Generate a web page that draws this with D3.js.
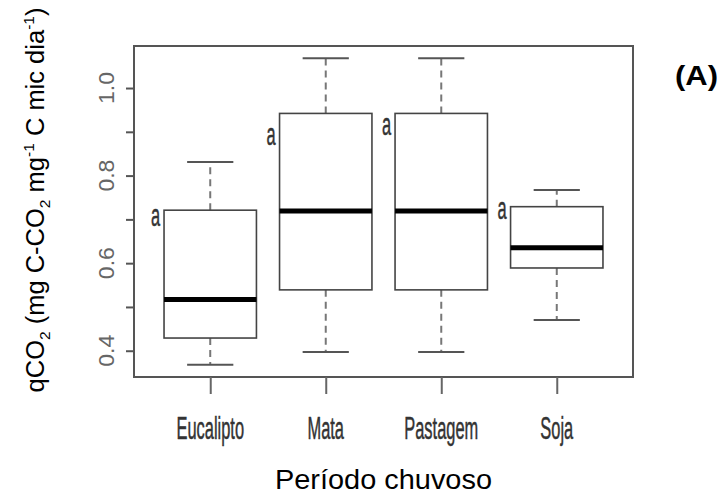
<!DOCTYPE html>
<html>
<head>
<meta charset="utf-8">
<script src="https://cdn.jsdelivr.net/npm/d3@7"></script>
<style>
  html, body { margin: 0; padding: 0; background: #fff; }
  svg { display: block; font-family: Arial, "Liberation Sans", sans-serif; }
</style>
</head>
<body>
<svg id="chart" width="721" height="495"></svg>
<script>
// ---- data ----
const categories = ["Eucalipto", "Mata", "Pastagem", "Soja"];
const whiskerLow  = [0.368, 0.397, 0.397, 0.470];
const q1          = [0.429, 0.539, 0.539, 0.589];
const median      = [0.517, 0.719, 0.719, 0.635];
const q3          = [0.721, 0.942, 0.942, 0.729];
const whiskerHigh = [0.831, 1.068, 1.068, 0.767];
const letters     = ["a", "a", "a", "a"];
const letterY     = [0.686, 0.869, 0.892, 0.702];
const yTickValues = [0.4, 0.5, 0.6, 0.7, 0.8, 0.9, 1.0];
const yTickLabels = ["0.4", "0.6", "0.8", "1.0"];
const xTitle = "Período chuvoso";
const panelLabel = "(A)";

// ---- layout ----
const plot = { left: 134, right: 633, top: 46, bottom: 377 };
const svg = d3.select("#chart");

const x = d3.scaleLinear().domain([0.34, 4.66]).range([plot.left, plot.right]);
const y = d3.scaleLinear().domain([0.34, 1.096]).range([plot.bottom, plot.top]);

const boxHalf = (x(1.4) - x(1.0));
const capHalf = (x(1.2) - x(1.0));
const condense = 0.53;

const data = categories.map((c, i) => ({
  c, i: i + 1, lo: whiskerLow[i], q1: q1[i], med: median[i], q3: q3[i], hi: whiskerHigh[i],
  letter: letters[i], ly: letterY[i]
}));

const g = svg.append("g");
data.forEach(d => {
  const cx = x(d.i);
  g.append("line").attr("x1", cx).attr("x2", cx).attr("y1", y(d.q3)).attr("y2", y(d.hi))
    .attr("stroke", "#777").attr("stroke-width", 2).attr("stroke-dasharray", "7,5");
  g.append("line").attr("x1", cx).attr("x2", cx).attr("y1", y(d.q1)).attr("y2", y(d.lo))
    .attr("stroke", "#777").attr("stroke-width", 2).attr("stroke-dasharray", "7,5");
  [d.lo, d.hi].forEach(v => {
    g.append("line").attr("x1", cx - capHalf).attr("x2", cx + capHalf)
      .attr("y1", y(v)).attr("y2", y(v)).attr("stroke", "#555").attr("stroke-width", 2);
  });
  g.append("rect").attr("x", cx - boxHalf).attr("width", 2 * boxHalf)
    .attr("y", y(d.q3)).attr("height", y(d.q1) - y(d.q3))
    .attr("fill", "#fff").attr("stroke", "#444").attr("stroke-width", 1.6);
  g.append("line").attr("x1", cx - boxHalf).attr("x2", cx + boxHalf)
    .attr("y1", y(d.med)).attr("y2", y(d.med)).attr("stroke", "#000").attr("stroke-width", 5);
  g.append("g").attr("transform", `translate(${cx - boxHalf - 4},${y(d.ly)}) scale(${condense},1)`)
    .append("text").attr("text-anchor", "end").attr("font-size", 31).attr("fill", "#333")
    .attr("stroke", "#333").attr("stroke-width", 0.5)
    .text(d.letter);
});

svg.append("rect").attr("x", plot.left).attr("y", plot.top)
  .attr("width", plot.right - plot.left).attr("height", plot.bottom - plot.top)
  .attr("fill", "none").attr("stroke", "#555").attr("stroke-width", 2);

const yAxis = svg.append("g").attr("transform", `translate(${plot.left},0)`)
  .call(d3.axisLeft(y).tickValues(yTickValues).tickSize(8).tickFormat(""));
yAxis.select(".domain").remove();
yAxis.selectAll(".tick line").attr("stroke", "#555").attr("stroke-width", 2);
yTickLabels.forEach(t => {
  svg.append("text")
    .attr("transform", `translate(114,${y(+t)}) rotate(-90)`)
    .attr("text-anchor", "middle").attr("font-size", 22).attr("fill", "#666")
    .attr("textLength", 32).attr("lengthAdjust", "spacingAndGlyphs")
    .text(t);
});

const xAxis = svg.append("g").attr("transform", `translate(0,${plot.bottom})`)
  .call(d3.axisBottom(x).tickValues(data.map(d => d.i)).tickSize(17).tickFormat(""));
xAxis.select(".domain").remove();
xAxis.selectAll(".tick line").attr("stroke", "#666").attr("stroke-width", 2);
data.forEach(d => {
  svg.append("g").attr("transform", `translate(${x(d.i)},439) scale(${condense},1)`)
    .append("text").attr("text-anchor", "middle").attr("font-size", 31).attr("fill", "#333")
    .attr("stroke", "#333").attr("stroke-width", 0.5)
    .text(d.c);
});

svg.append("text").attr("x", (plot.left + plot.right) / 2).attr("y", 489)
  .attr("text-anchor", "middle").attr("font-size", 27).attr("fill", "#000")
  .attr("textLength", 217).attr("lengthAdjust", "spacingAndGlyphs")
  .text(xTitle);

const yt = svg.append("text").attr("transform", "translate(44,200) rotate(-90)")
  .attr("text-anchor", "middle").attr("font-size", 25.5).attr("fill", "#000");
const parts = [
  ["qCO", 0, 25.5], ["2", 6, 15.5], [" (mg C-CO", -6, 25.5], ["2", 6, 15.5], [" mg", -6, 25.5],
  ["-1", -10, 15.5], [" C mic dia", 10, 25.5], ["-1", -10, 15.5], [")", 10, 25.5]
];
parts.forEach(([t, dy, fs]) => {
  yt.append("tspan").attr("dy", dy).attr("font-size", fs).text(t);
});

svg.append("text").attr("x", 675).attr("y", 85).attr("font-size", 27)
  .attr("font-weight", "bold").attr("fill", "#000")
  .attr("textLength", 43).attr("lengthAdjust", "spacingAndGlyphs")
  .text(panelLabel);
</script>
</body>
</html>
